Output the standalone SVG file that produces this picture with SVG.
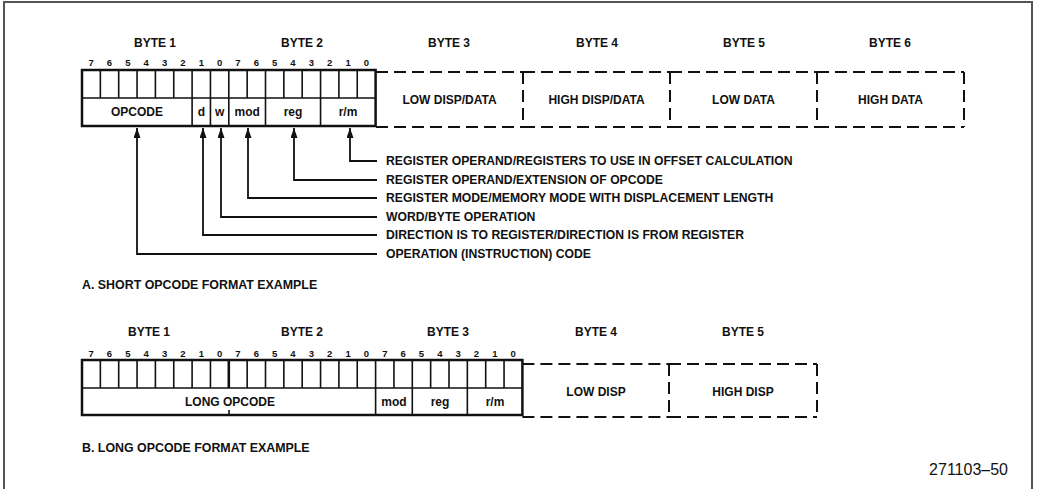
<svg xmlns="http://www.w3.org/2000/svg" width="1041" height="489" viewBox="0 0 1041 489">
<style>
text{font-family:"Liberation Sans",Arial,sans-serif;font-weight:bold;fill:#111}
.byte{font-size:12px;text-anchor:middle}
.bit{font-size:9.5px;text-anchor:middle}
.fld{font-size:12px;text-anchor:middle}
.lbl{font-size:12.2px}
.cap{font-size:12.4px}
.box{fill:none;stroke:#111;stroke-width:2.5}
.cell{stroke:#111;stroke-width:1.6;fill:none}
.dash{fill:none;stroke:#111;stroke-width:2;stroke-dasharray:12 6}
.conn{fill:none;stroke:#111;stroke-width:1.8}
</style>
<defs>
<marker id="ah" viewBox="0 0 10 7" refX="10" refY="3.5" markerWidth="10" markerHeight="7" orient="auto" markerUnits="userSpaceOnUse"><path d="M0,0 L10,3.5 L0,7 z" fill="#111"/></marker>
</defs>
<path d="M4,489 V2 H1032 V489" fill="none" stroke="#555" stroke-width="2"/>

<g id="short-format">
<g id="short-labels">
<text class="byte" x="155" y="47">BYTE 1</text>
<text class="byte" x="302" y="47">BYTE 2</text>
<text class="byte" x="449" y="47">BYTE 3</text>
<text class="byte" x="597" y="47">BYTE 4</text>
<text class="byte" x="744" y="47">BYTE 5</text>
<text class="byte" x="890" y="47">BYTE 6</text>
</g>
<g id="short-bits" class="bit">
<text x="91.2" y="66">7</text><text x="109.5" y="66">6</text><text x="127.9" y="66">5</text><text x="146.2" y="66">4</text><text x="164.6" y="66">3</text><text x="182.9" y="66">2</text><text x="201.3" y="66">1</text><text x="219.6" y="66">0</text>
<text x="238" y="66">7</text><text x="256.3" y="66">6</text><text x="274.7" y="66">5</text><text x="293" y="66">4</text><text x="311.4" y="66">3</text><text x="329.7" y="66">2</text><text x="348.1" y="66">1</text><text x="366.4" y="66">0</text>
</g>
<g id="short-box">
<rect class="box" x="82" y="70" width="293.6" height="56"/>
<path class="cell" d="M82,98 H375.6 M100.35,70 V98 M118.7,70 V98 M137.05,70 V98 M155.4,70 V98 M173.75,70 V98 M192.1,70 V126 M210.45,70 V126 M228.8,70 V126 M247.15,70 V98 M265.5,70 V126 M283.85,70 V98 M302.2,70 V98 M320.55,70 V126 M338.9,70 V98 M357.25,70 V98"/>
<text class="fld" x="137" y="116">OPCODE</text>
<text class="fld" x="201.3" y="116">d</text>
<text class="fld" x="219.6" y="116">w</text>
<text class="fld" x="247.2" y="116">mod</text>
<text class="fld" x="293" y="116">reg</text>
<text class="fld" x="348" y="116">r/m</text>
</g>
<g id="short-byte3"><path class="dash" d="M376,72 H523 M376,127 H523"/><text class="fld" x="449.5" y="104">LOW DISP/DATA</text></g>
<g id="short-byte4"><path class="dash" d="M523,72 H670 M523,127 H670 M523,72 V127"/><text class="fld" x="596.5" y="104">HIGH DISP/DATA</text></g>
<g id="short-byte5"><path class="dash" d="M670,72 H817 M670,127 H817 M670,72 V127"/><text class="fld" x="743.5" y="104">LOW DATA</text></g>
<g id="short-byte6"><path class="dash" d="M817,72 H964 M817,127 H964 M817,72 V127 M964,72 V127"/><text class="fld" x="890.5" y="104">HIGH DATA</text></g>
<g id="short-notes" class="lbl">
<text x="386" y="165">REGISTER OPERAND/REGISTERS TO USE IN OFFSET CALCULATION</text>
<text x="386" y="184">REGISTER OPERAND/EXTENSION OF OPCODE</text>
<text x="386" y="202">REGISTER MODE/MEMORY MODE WITH DISPLACEMENT LENGTH</text>
<text x="386" y="221">WORD/BYTE OPERATION</text>
<text x="386" y="239">DIRECTION IS TO REGISTER/DIRECTION IS FROM REGISTER</text>
<text x="386" y="258">OPERATION (INSTRUCTION) CODE</text>
</g>
<text class="cap" x="82" y="289">A.  SHORT OPCODE FORMAT EXAMPLE</text>
</g>

<g id="connectors">
<path class="conn" marker-end="url(#ah)" d="M377,161 H350 V128"/>
<path class="conn" marker-end="url(#ah)" d="M377,180 H294 V128"/>
<path class="conn" marker-end="url(#ah)" d="M377,198 H248 V128"/>
<path class="conn" marker-end="url(#ah)" d="M377,217 H221 V128"/>
<path class="conn" marker-end="url(#ah)" d="M377,235 H203 V128"/>
<path class="conn" marker-end="url(#ah)" d="M377,254 H137 V128"/>
</g>

<g id="long-format">
<g id="long-labels">
<text class="byte" x="149" y="336">BYTE 1</text>
<text class="byte" x="302" y="336">BYTE 2</text>
<text class="byte" x="448" y="336">BYTE 3</text>
<text class="byte" x="596" y="336">BYTE 4</text>
<text class="byte" x="743" y="336">BYTE 5</text>
</g>
<g id="long-bits" class="bit">
<text x="91.2" y="357">7</text><text x="109.5" y="357">6</text><text x="127.9" y="357">5</text><text x="146.2" y="357">4</text><text x="164.6" y="357">3</text><text x="182.9" y="357">2</text><text x="201.3" y="357">1</text><text x="219.6" y="357">0</text>
<text x="238" y="357">7</text><text x="256.3" y="357">6</text><text x="274.7" y="357">5</text><text x="293" y="357">4</text><text x="311.4" y="357">3</text><text x="329.7" y="357">2</text><text x="348.1" y="357">1</text><text x="366.4" y="357">0</text>
<text x="384.8" y="357">7</text><text x="403.1" y="357">6</text><text x="421.5" y="357">5</text><text x="439.8" y="357">4</text><text x="458.2" y="357">3</text><text x="476.5" y="357">2</text><text x="494.9" y="357">1</text><text x="513.2" y="357">0</text>
</g>
<g id="long-box">
<rect class="box" x="82" y="360" width="440.4" height="55"/>
<path class="cell" d="M82,388 H522.4 M100.35,360 V388 M118.7,360 V388 M137.05,360 V388 M155.4,360 V388 M173.75,360 V388 M192.1,360 V388 M210.45,360 V388 M247.15,360 V388 M265.5,360 V388 M283.85,360 V388 M302.2,360 V388 M320.55,360 V388 M338.9,360 V388 M357.25,360 V388 M375.6,360 V415 M393.95,360 V388 M412.3,360 V415 M430.65,360 V388 M449,360 V388 M467.35,360 V415 M485.7,360 V388 M504.05,360 V388 M229,410 V415"/>
<path d="M228.8,360 V388" stroke="#111" stroke-width="2.6"/>
<text class="fld" x="230" y="406">LONG OPCODE</text>
<text class="fld" x="394" y="406">mod</text>
<text class="fld" x="440" y="406">reg</text>
<text class="fld" x="495" y="406">r/m</text>
</g>
<g id="long-byte4"><path class="dash" d="M522.4,364 H669 M522.4,417 H669"/><text class="fld" x="596" y="396">LOW DISP</text></g>
<g id="long-byte5"><path class="dash" d="M669,364 H817 M669,417 H817 M669,364 V417 M817,364 V417"/><text class="fld" x="743" y="396">HIGH DISP</text></g>
<text class="cap" x="82" y="452">B.  LONG OPCODE FORMAT EXAMPLE</text>
</g>

<text x="1008" y="475" text-anchor="end" style="font-weight:normal;font-size:16px">271103–50</text>
</svg>
